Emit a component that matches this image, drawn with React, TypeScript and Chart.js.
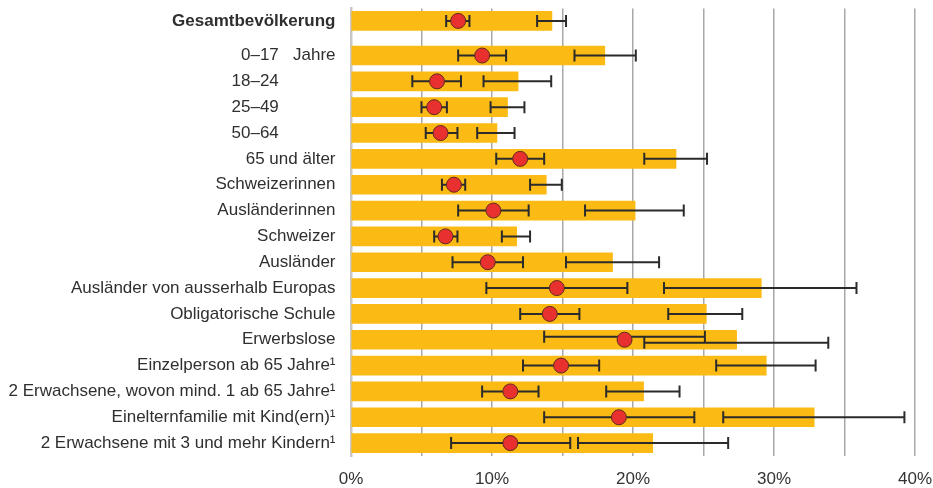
import React, { useEffect, useRef } from 'react';
import { Chart, registerables } from 'chart.js';

Chart.register(...registerables);

const agePad = '            ';
const categories = [
  'Gesamtbevölkerung',
  '0–17   Jahre',
  '18–24' + agePad,
  '25–49' + agePad,
  '50–64' + agePad,
  '65 und älter',
  'Schweizerinnen',
  'Ausländerinnen',
  'Schweizer',
  'Ausländer',
  'Ausländer von ausserhalb Europas',
  'Obligatorische Schule',
  'Erwerbslose',
  'Einzelperson ab 65 Jahre¹',
  '2 Erwachsene, wovon mind. 1 ab 65 Jahre¹',
  'Einelternfamilie mit Kind(ern)¹',
  '2 Erwachsene mit 3 und mehr Kindern¹',
];

// orange bars with their confidence interval
const barValues = [14.25, 18.0, 11.85, 11.1, 10.35, 23.05, 13.85, 20.15, 11.75, 18.55, 29.1, 25.2, 27.35, 29.45, 20.75, 32.85, 21.4];
const barLow = [13.2, 15.85, 9.4, 9.9, 8.95, 20.8, 12.7, 16.6, 10.7, 15.25, 22.2, 22.5, 20.8, 25.9, 18.1, 26.4, 16.1];
const barHigh = [15.25, 20.2, 14.2, 12.3, 11.6, 25.25, 14.95, 23.6, 12.7, 21.85, 35.85, 27.75, 33.85, 32.95, 23.3, 39.25, 26.75];

// red points with their confidence interval
const pointValues = [7.6, 9.3, 6.1, 5.9, 6.35, 12.0, 7.3, 10.1, 6.7, 9.7, 14.6, 14.1, 19.4, 14.9, 11.3, 19.0, 11.3];
const pointLow = [6.75, 7.6, 4.35, 5.0, 5.3, 10.3, 6.45, 7.6, 5.9, 7.2, 9.6, 12.0, 13.7, 12.2, 9.3, 13.7, 7.1];
const pointHigh = [8.4, 11.0, 7.8, 6.8, 7.55, 13.7, 8.1, 12.6, 7.55, 12.2, 19.6, 16.2, 25.1, 17.6, 13.3, 24.35, 15.55];

const xMin = 0;
const xMax = 40;
const xStep = 5;

// layout: first row separated from the others by an extra gap
const groupGap = 0.34;
const rowPos = categories.map((_, i) => (i === 0 ? 0 : i + groupGap));

const FONT = '"Liberation Sans", Arial, sans-serif';

const errorBarsPlugin = {
  id: 'errorBars',
  afterDatasetDraw(chart: any, args: any) {
    if (args.meta.type !== 'bar') return;
    const xs = chart.scales.x;
    const ys = chart.scales.y;
    const ctx = chart.ctx as CanvasRenderingContext2D;
    const cap = 6;
    ctx.save();
    ctx.strokeStyle = '#2b2b2b';
    ctx.lineWidth = 2;
    const seg = (lo: number, hi: number, y: number) => {
      const x1 = xs.getPixelForValue(lo);
      const x2 = xs.getPixelForValue(hi);
      ctx.beginPath();
      ctx.moveTo(x1, y);
      ctx.lineTo(x2, y);
      ctx.moveTo(x1, y - cap);
      ctx.lineTo(x1, y + cap);
      ctx.moveTo(x2, y - cap);
      ctx.lineTo(x2, y + cap);
      ctx.stroke();
    };
    rowPos.forEach((p, i) => {
      const y = ys.getPixelForValue(p);
      const overlap = pointHigh[i] > barLow[i] && barHigh[i] > pointLow[i];
      const off = overlap ? 3 : 0;
      seg(barLow[i], barHigh[i], y + off);
      seg(pointLow[i], pointHigh[i], y - off);
    });
    ctx.restore();
  },
};

export default function App() {
  const ref = useRef<HTMLCanvasElement>(null);

  useEffect(() => {
    if (!ref.current) return;
    const chart = new Chart(ref.current, {
      type: 'bar',
      data: {
        datasets: [
          {
            type: 'bar',
            data: barValues.map((v, i) => ({ x: v, y: rowPos[i] })),
            backgroundColor: '#FBBB14',
            borderWidth: 0,
            barThickness: 19,
            order: 2,
          } as any,
          {
            type: 'scatter',
            data: pointValues.map((v, i) => ({ x: v, y: rowPos[i] })),
            backgroundColor: '#E8312F',
            borderColor: '#5e2a22',
            borderWidth: 1,
            pointRadius: 7.5,
            pointHoverRadius: 7.5,
            order: 1,
          } as any,
        ],
      },
      options: {
        indexAxis: 'y',
        animation: false,
        responsive: true,
        maintainAspectRatio: false,
        layout: { padding: { top: 7, right: 0, bottom: 0, left: 0 } },
        plugins: {
          legend: { display: false },
          tooltip: { enabled: false },
        },
        scales: {
          x: {
            type: 'linear',
            position: 'bottom',
            min: xMin,
            max: xMax,
            offset: false,
            ticks: {
              stepSize: xStep,
              padding: 13,
              color: '#333',
              font: { family: FONT, size: 17 },
              maxRotation: 0,
              autoSkip: false,
              callback: (v: any) => (Number(v) % 10 === 0 ? v + '%' : ''),
            },
            grid: {
              color: (c: any) => (c.tick && c.tick.value === 0 ? 'rgba(0,0,0,0)' : '#a8a8a8'),
              lineWidth: 1.5,
              drawTicks: false,
              offset: false,
            },
            border: { display: false },
            afterFit: (s: any) => {
              s.height = 32;
              s.paddingRight = 18;
              s.paddingLeft = 0;
            },
          },
          y: {
            type: 'linear',
            position: 'left',
            reverse: true,
            offset: false,
            min: -0.48,
            max: 16.84,
            afterBuildTicks: (s: any) => {
              s.ticks = rowPos.map((v) => ({ value: v }));
            },
            ticks: {
              autoSkip: false,
              padding: 15.5,
              color: '#2f2f2f',
              font: (c: any) => ({
                family: FONT,
                size: 17,
                weight: c.index === 0 ? 'bold' : 'normal',
              }),
              callback: (_v: any, i: number) => categories[i],
            },
            grid: { display: false, drawTicks: false, offset: false },
            border: { display: true, color: '#c8c8c8', width: 2.5 },
            afterFit: (s: any) => {
              s.width = 351;
              s.paddingTop = 0;
              s.paddingBottom = 0;
            },
          },
        },
      } as any,
      plugins: [errorBarsPlugin],
    });
    return () => chart.destroy();
  }, []);

  return (
    <div style={{ position: 'fixed', left: 0, top: 0, width: 933, height: 488 }}>
      <canvas ref={ref} />
    </div>
  );
}
